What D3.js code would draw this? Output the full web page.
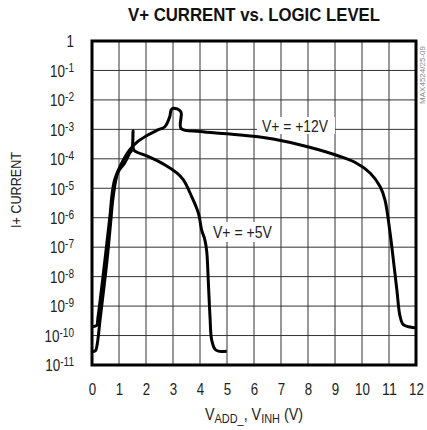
<!DOCTYPE html>
<html>
<head>
<meta charset="utf-8">
<script src="https://cdn.jsdelivr.net/npm/d3@7"></script>
<style>
  body { margin: 0; background: #fff; }
  text { font-family: "Liberation Sans", Arial, sans-serif; }
</style>
</head>
<body>
<svg id="chart" width="427" height="430"></svg>
<script>
// x ticks (volts) and y decades (log10 of current)
const xTicks = [0, 1, 2, 3, 4, 5, 6, 7, 8, 9, 10, 11, 12];
const yExps = [0, -1, -2, -3, -4, -5, -6, -7, -8, -9, -10, -11];

// V+ = +12V curve, volts vs log10(I+)
const volts12 = [0, 0.17, 0.22, 0.48, 0.67, 0.74, 0.84, 1.07, 1.40, 1.70, 2.07, 2.44, 2.70, 2.88, 2.93, 3.01, 3.29, 3.30, 4.00, 4.99, 6.22, 6.71, 7.95, 9.19, 9.80, 10.30, 10.67, 10.85, 11.04, 11.16, 11.29, 11.41, 11.53, 11.78, 12.0];
const logI12 = [-9.69, -9.66, -9.39, -7.42, -5.90, -5.22, -4.71, -4.20, -3.69, -3.41, -3.19, -3.02, -2.91, -2.57, -2.34, -2.28, -2.40, -2.97, -3.07, -3.15, -3.26, -3.33, -3.58, -3.92, -4.15, -4.48, -4.94, -5.39, -6.52, -7.42, -8.44, -9.35, -9.63, -9.71, -9.74];

// V+ = +5V curve
const volts5 = [0, 0.13, 0.19, 0.30, 0.56, 0.70, 0.78, 0.96, 1.21, 1.40, 1.48, 1.52, 1.54, 1.63, 2.07, 2.69, 3.14, 3.38, 3.69, 3.94, 4.06, 4.18, 4.25, 4.31, 4.37, 4.43, 4.56, 4.68, 4.99];
const logI5 = [-10.54, -10.51, -10.31, -9.46, -7.42, -6.07, -5.32, -4.47, -4.14, -3.80, -3.69, -3.05, -3.69, -3.76, -3.92, -4.20, -4.48, -4.71, -5.28, -5.84, -6.41, -6.75, -7.15, -8.21, -9.35, -10.14, -10.47, -10.53, -10.53];

const svg = d3.select("#chart");
const pLeft = 92, pRight = 416, pTop = 41, pBottom = 365;
const narrow = 0.84; // horizontal squeeze to mimic the condensed face

let x = d3.scaleLinear().domain([0, 12]).range([pLeft, pRight]);
let y = d3.scaleLog().domain([1e-11, 1]).range([pBottom, pTop]);

// squeeze a plain text so it looks condensed
function squeeze(sel, w) {
  sel.attr("textLength", w).attr("lengthAdjust", "spacingAndGlyphs");
  return sel;
}

// grid
let grid = svg.append("g");
grid.selectAll(".vx").data(xTicks).enter().append("line")
  .attr("x1", d => x(d)).attr("x2", d => x(d))
  .attr("y1", pTop).attr("y2", pBottom)
  .attr("stroke", "#333").attr("stroke-width", 1);
grid.selectAll(".hy").data(yExps).enter().append("line")
  .attr("x1", pLeft).attr("x2", pRight)
  .attr("y1", d => y(Math.pow(10, d))).attr("y2", d => y(Math.pow(10, d)))
  .attr("stroke", "#333").attr("stroke-width", 1);

// curve labels with white boxes
function curveLabel(txt, lx, ly, w, bx, by, bw, bh) {
  svg.append("rect").attr("x", bx).attr("y", by).attr("width", bw).attr("height", bh).attr("fill", "#fff");
  let t = svg.append("text").attr("x", lx).attr("y", ly).attr("font-size", 17).attr("fill", "#222").text(txt);
  squeeze(t, w);
}
curveLabel("V+ = +12V", 262, 132, 66, 257, 117, 78, 17);
curveLabel("V+ = +5V", 213, 238, 59, 211, 222, 62, 20);

// curves
let line = d3.line()
  .x(d => x(d[0]))
  .y(d => y(Math.pow(10, d[1])))
  .curve(d3.curveCatmullRom.alpha(0.5));

svg.append("path").datum(d3.zip(volts12, logI12))
  .attr("d", line).attr("fill", "none").attr("stroke", "#000").attr("stroke-width", 3).attr("stroke-linejoin", "round");
svg.append("path").datum(d3.zip(volts5, logI5))
  .attr("d", line).attr("fill", "none").attr("stroke", "#000").attr("stroke-width", 3).attr("stroke-linejoin", "round");

// border
svg.append("rect").attr("x", pLeft).attr("y", pTop).attr("width", pRight - pLeft).attr("height", pBottom - pTop)
  .attr("fill", "none").attr("stroke", "#000").attr("stroke-width", 3);

// x axis
let xAxis = d3.axisBottom(x).tickValues(xTicks).tickSize(0).tickPadding(0).tickFormat(d3.format("d"));
let xg = svg.append("g").attr("transform", "translate(0," + pBottom + ")").call(xAxis);
xg.select(".domain").remove();
xg.selectAll("text").attr("y", 30).attr("dy", null).attr("font-size", 17).attr("fill", "#222")
  .style("font-family", "'Liberation Sans', sans-serif")
  .each(function (d) { squeeze(d3.select(this), String(d).length * 7.4); });

// y axis with superscripts
let yAxis = d3.axisLeft(y).tickValues(yExps.map(e => Math.pow(10, e))).tickSize(0).tickPadding(18);
let yg = svg.append("g").attr("transform", "translate(" + pLeft + ",0)").call(yAxis);
yg.select(".domain").remove();
yg.selectAll("text").each(function (d) {
  let t = d3.select(this).text("").attr("dy", "0.36em").attr("font-size", 16).attr("fill", "#222")
    .attr("x", -18 / narrow).attr("transform", "scale(" + narrow + ",1)")
    .style("font-family", "'Liberation Sans', sans-serif");
  let e = Math.round(Math.log10(d));
  if (e === 0) { t.text("1"); return; }
  t.append("tspan").text("10");
  t.append("tspan").attr("font-size", 12).attr("dy", "-0.42em").text(String(e));
});

// title
let title = svg.append("text").attr("x", 254).attr("y", 21).attr("text-anchor", "middle")
  .attr("font-size", 19).attr("font-weight", "bold").attr("fill", "#111")
  .text("V+ CURRENT vs. LOGIC LEVEL");
squeeze(title, 252);

// axis titles
let yl = svg.append("text").attr("transform", "translate(21,190) rotate(-90)").attr("text-anchor", "middle")
  .attr("font-size", 15).attr("fill", "#222").text("I+ CURRENT");
squeeze(yl, 76);

let xl = svg.append("text").attr("transform", "translate(254,420) scale(" + narrow + ",1)")
  .attr("text-anchor", "middle").attr("font-size", 17).attr("fill", "#222");
xl.append("tspan").text("V");
xl.append("tspan").attr("font-size", 13).attr("dy", 3).text("ADD_");
xl.append("tspan").attr("dy", -3).text(", V");
xl.append("tspan").attr("font-size", 13).attr("dy", 3).text("INH");
xl.append("tspan").attr("dy", -3).text(" (V)");

// part number
svg.append("text").attr("transform", "translate(425,75) rotate(-90)").attr("text-anchor", "middle")
  .attr("font-size", 8).attr("fill", "#888").text("MAX4524/25-09");
</script>
</body>
</html>
